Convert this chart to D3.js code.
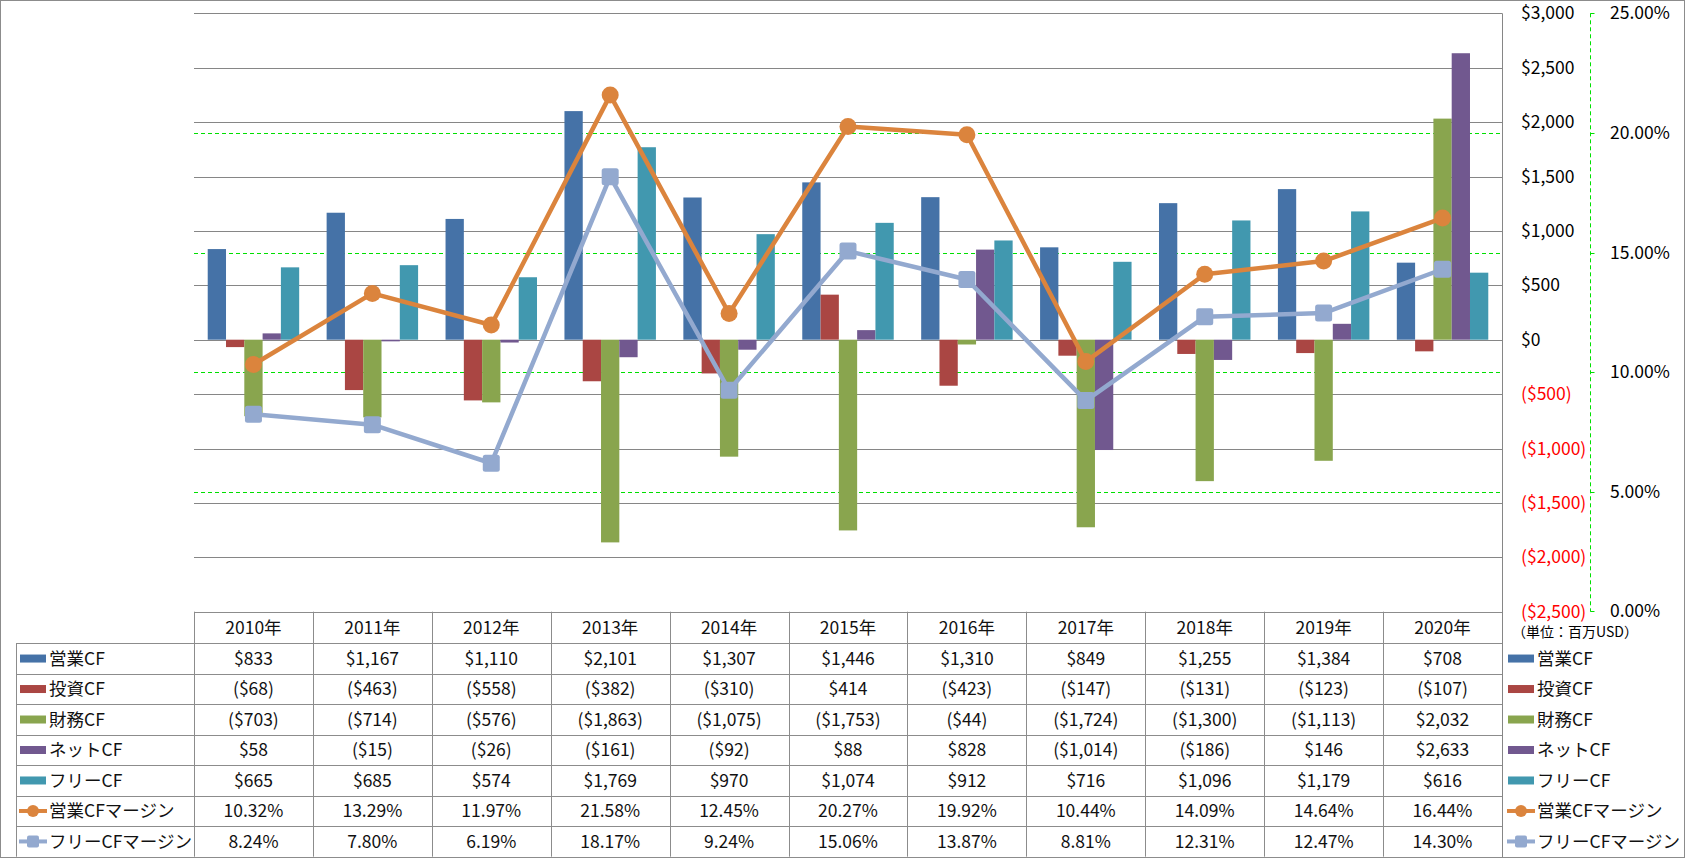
<!DOCTYPE html>
<html><head><meta charset="utf-8">
<script src="https://cdn.jsdelivr.net/npm/d3@7"></script>
<style>
body{margin:0;background:#fff;}
svg{display:block;font-family:"Noto Sans CJK JP","Noto Sans",sans-serif;}
</style></head><body>
<svg id="c" width="1685" height="858"></svg>
<script>
const years = ["2010年","2011年","2012年","2013年","2014年","2015年","2016年","2017年","2018年","2019年","2020年"];
const barNames = ["営業CF","投資CF","財務CF","ネットCF","フリーCF"];
const lineNames = ["営業CFマージン","フリーCFマージン"];
const opCF  = [833,1167,1110,2101,1307,1446,1310,849,1255,1384,708];
const invCF = [-68,-463,-558,-382,-310,414,-423,-147,-131,-123,-107];
const finCF = [-703,-714,-576,-1863,-1075,-1753,-44,-1724,-1300,-1113,2032];
const netCF = [58,-15,-26,-161,-92,88,828,-1014,-186,146,2633];
const freeCF = [665,685,574,1769,970,1074,912,716,1096,1179,616];
const opMargin = [10.32,13.29,11.97,21.58,12.45,20.27,19.92,10.44,14.09,14.64,16.44];
const freeMargin = [8.24,7.80,6.19,18.17,9.24,15.06,13.87,8.81,12.31,12.47,14.30];
const dollarTicks = [3000,2500,2000,1500,1000,500,0,-500,-1000,-1500,-2000,-2500];
const pctTicks = [25,20,15,10,5,0];
const unitLabel = "（単位：百万USD）";

const barSeries = [opCF,invCF,finCF,netCF,freeCF];
const lineSeries = [opMargin,freeMargin];
const barColors = ["#4572A7","#AA4643","#89A54E","#71588F","#4198AF"];
const lineColors = ["#DB843D","#93A9CF"];
const FS = 17.5;

const svg = d3.select("#c");
const L = 194, R = 1502, T = 13.3, B = 611.7;
const x = d3.scaleBand().domain(years).range([L,R]).padding(0);
const xs = d3.scaleBand().domain(d3.range(5)).range([0,x.bandwidth()]).paddingInner(0).paddingOuter(0.75);
const y = d3.scaleLinear().domain([-2500,3000]).range([B,T]);
const y2 = d3.scaleLinear().domain([0,25]).range([B-0.4,T]);

const fmtD = v => v<0 ? "($"+d3.format(",")(-v)+")" : "$"+d3.format(",")(v);
const fmtP = v => d3.format(".2f")(v)+"%";

// outer border
svg.append("rect").attr("x",0.5).attr("y",0.5).attr("width",1684).attr("height",857)
  .attr("fill","none").attr("stroke","#8c8c8c");

// gray gridlines
svg.append("g").selectAll("line").data(dollarTicks).join("line")
  .attr("x1",L).attr("x2",R).attr("y1",d=>Math.round(y(d))+0.5).attr("y2",d=>Math.round(y(d))+0.5)
  .attr("stroke","#868686").attr("stroke-width",1);
// green dashed gridlines
svg.append("g").selectAll("line").data(pctTicks.filter(d=>d>0&&d<25)).join("line")
  .attr("x1",L).attr("x2",R).attr("y1",d=>Math.round(y2(d))+0.5).attr("y2",d=>Math.round(y2(d))+0.5)
  .attr("stroke","#00E000").attr("stroke-width",1).attr("stroke-dasharray","4,3");

// bars
barSeries.forEach((s,i)=>{
  svg.append("g").selectAll("rect").data(s).join("rect")
    .attr("x",(d,j)=>x(years[j])+xs(i))
    .attr("width",xs.bandwidth())
    .attr("y",d=>y(Math.max(0,d)))
    .attr("height",d=>Math.abs(y(d)-y(0)))
    .attr("fill",barColors[i]);
});

// right plot edge
svg.append("line").attr("x1",R+0.5).attr("x2",R+0.5).attr("y1",T).attr("y2",857)
  .attr("stroke","#868686");

// lines
const cx = j => x(years[j]) + x.bandwidth()/2;
lineSeries.forEach((s,i)=>{
  const g = svg.append("g");
  g.append("path").datum(s)
    .attr("d", d3.line().x((d,j)=>cx(j)).y(d=>y2(d)))
    .attr("fill","none").attr("stroke",lineColors[i]).attr("stroke-width",4.5).attr("stroke-linejoin","round");
  if(i===0){
    g.selectAll("circle").data(s).join("circle")
      .attr("cx",(d,j)=>cx(j)).attr("cy",d=>y2(d)).attr("r",8.5).attr("fill",lineColors[i]);
  } else {
    g.selectAll("rect").data(s).join("rect")
      .attr("x",(d,j)=>cx(j)-8.5).attr("y",d=>y2(d)-8.5).attr("width",17).attr("height",17)
      .attr("rx",2.5).attr("fill",lineColors[i]);
  }
});

// dollar axis labels (right)
svg.append("g").selectAll("text").data(dollarTicks).join("text")
  .attr("x",1521).attr("y",d=>y(d)).attr("dy","0.35em")
  .attr("font-size",FS).attr("fill",d=>d<0?"#FF0000":"#000").text(fmtD);

// percent axis
const AX = 1590.5;
svg.append("line").attr("x1",AX).attr("x2",AX).attr("y1",T).attr("y2",B)
  .attr("stroke","#00E000").attr("stroke-dasharray","4,3");
svg.append("g").selectAll("line").data(pctTicks).join("line")
  .attr("x1",AX).attr("x2",AX+4).attr("y1",d=>Math.round(y2(d))+0.5).attr("y2",d=>Math.round(y2(d))+0.5)
  .attr("stroke","#00E000");
svg.append("g").selectAll("text").data(pctTicks).join("text")
  .attr("x",1610).attr("y",d=>y2(d)).attr("dy","0.35em")
  .attr("font-size",FS).attr("fill","#000").text(fmtP);

// unit label
svg.append("text").attr("x",1512).attr("y",632).attr("dy","0.35em")
  .attr("font-size",14).attr("fill","#000").text(unitLabel);

// table
const HT = B, HB = 643.3, RB = 856.7;
const rh = (RB-HB)/7;
const tg = svg.append("g");
const gc = "#8c8c8c";
tg.append("line").attr("x1",L).attr("x2",R).attr("y1",Math.round(HT)+0.5).attr("y2",Math.round(HT)+0.5).attr("stroke",gc);
d3.range(8).forEach(k=>{
  const yy = Math.round(HB + k*rh)+0.5;
  tg.append("line").attr("x1",16).attr("x2",R).attr("y1",yy).attr("y2",yy).attr("stroke",gc);
});
tg.append("line").attr("x1",16.5).attr("x2",16.5).attr("y1",HB).attr("y2",RB).attr("stroke",gc);
years.forEach((yr,j)=>{
  const xx = Math.round(x(yr))+0.5;
  tg.append("line").attr("x1",xx).attr("x2",xx).attr("y1",HT).attr("y2",RB).attr("stroke",gc);
});
tg.selectAll("text.h").data(years).join("text").attr("class","h")
  .attr("x",d=>x(d)+x.bandwidth()/2).attr("y",(HT+HB)/2).attr("dy","0.35em")
  .attr("text-anchor","middle").attr("font-size",FS).attr("fill","#111").text(d=>d);
const rows = barSeries.map(s=>s.map(fmtD)).concat(lineSeries.map(s=>s.map(fmtP)));
rows.forEach((r,k)=>{
  tg.append("g").selectAll("text").data(r).join("text")
    .attr("x",(d,j)=>cx(j)).attr("y",HB+(k+0.5)*rh).attr("dy","0.35em")
    .attr("text-anchor","middle").attr("font-size",FS).attr("fill","#111").text(d=>d);
});
const names = barNames.concat(lineNames);
function legend(x0, tx){
  names.forEach((n,k)=>{
    const cy = HB+(k+0.5)*rh;
    if(k<5){
      tg.append("rect").attr("x",x0).attr("y",cy-4).attr("width",26).attr("height",8).attr("fill",barColors[k]);
    } else {
      const c = lineColors[k-5];
      tg.append("line").attr("x1",x0-1).attr("x2",x0+27).attr("y1",cy).attr("y2",cy).attr("stroke",c).attr("stroke-width",4);
      if(k===5) tg.append("circle").attr("cx",x0+13).attr("cy",cy).attr("r",6).attr("fill",c);
      else tg.append("rect").attr("x",x0+7).attr("y",cy-6).attr("width",12).attr("height",12).attr("rx",2).attr("fill",c);
    }
    tg.append("text").attr("x",tx).attr("y",cy).attr("dy","0.35em").attr("font-size",FS).attr("fill","#111").text(n);
  });
}
legend(20,49);
legend(1508,1537);
</script>
</body></html>
